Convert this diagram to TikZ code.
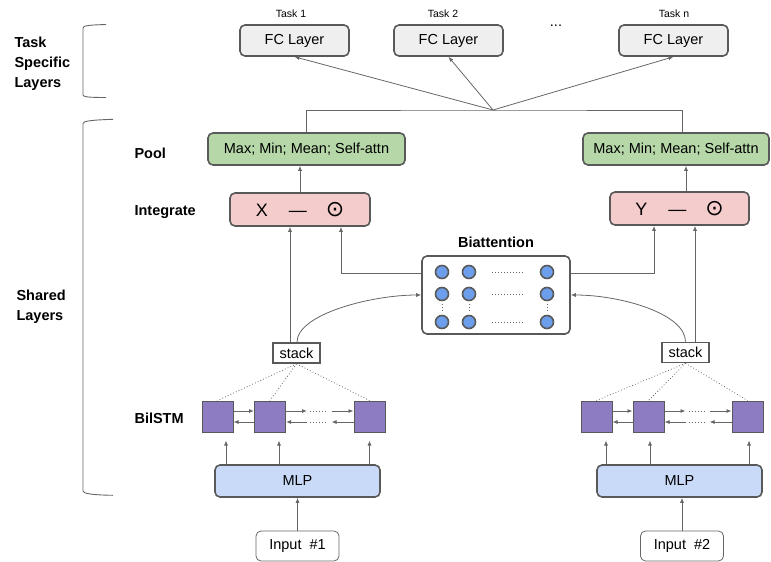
\documentclass[tikz,border=0pt]{standalone}
\usepackage{fontspec}
\setmainfont{Liberation Sans}
\newfontfamily\symfont{DejaVu Sans}
\usetikzlibrary{arrows.meta}

\definecolor{edgegray}{HTML}{595959}
\definecolor{wiregray}{HTML}{666666}
\definecolor{fcfill}{HTML}{EFEFEF}
\definecolor{poolfill}{HTML}{B6D7A8}
\definecolor{intfill}{HTML}{F4CCCC}
\definecolor{mlpfill}{HTML}{C9DAF8}
\definecolor{cellfill}{HTML}{8E7CC3}
\definecolor{unitfill}{HTML}{6D9EEB}

\tikzset{
    box/.style={draw=edgegray, line width=1.6pt, rounded corners=5pt, inner sep=0pt,
        font=\fontsize{14.5}{17}\selectfont},
    fcbox/.style={box, fill=fcfill, minimum width=109pt, minimum height=31pt},
    poolbox/.style={box, fill=poolfill, minimum width=197pt, minimum height=32pt},
    intbox/.style={box, fill=intfill, minimum width=140pt, minimum height=33pt,
        font=\fontsize{18}{20}\selectfont},
    mlpbox/.style={box, fill=mlpfill, minimum width=165pt, minimum height=32pt},
    inbox/.style={box, draw=wiregray, line width=0.8pt, fill=white,
        minimum width=83pt, minimum height=30pt},
    stackbox/.style={draw=edgegray, line width=1.6pt, fill=white, inner sep=0pt,
        minimum width=47pt, minimum height=20pt, font=\fontsize{14.5}{17}\selectfont},
    cell/.style={draw=edgegray, line width=1pt, fill=cellfill, minimum size=31pt, inner sep=0pt},
    unit/.style={circle, draw=edgegray, line width=1.6pt, fill=unitfill, minimum size=13pt, inner sep=0pt},
    tag/.style={font=\bfseries\fontsize{14.5}{20}\selectfont, align=left, anchor=base west},
    task/.style={font=\fontsize{10.5}{12}\selectfont, anchor=base},
    link/.style={draw=wiregray, line width=0.8pt},
    arr/.style={link, -{Latex[length=5pt,width=4pt]}},
    dots/.style={draw=wiregray, line width=0.8pt, dash pattern=on 0.8pt off 2.2pt},
    bracket/.style={draw=wiregray, line width=0.9pt}
}

\begin{document}
\begin{tikzpicture}[x=1pt, y=-1pt]
    \useasboundingbox (0,0) rectangle (771,562);

    % side labels and brackets (base of a multi-line tag = its last line)
    \node[tag] (lTask) at (11,87) {Task\\Specific\\Layers};
    \node[tag] (lShared) at (13,320) {Shared\\Layers};
    \node[tag] (lPool) at (131,158) {Pool};
    \node[tag] (lInt) at (131,215) {Integrate};
    \node[tag] (lLstm) at (131,423) {BilSTM};
    \draw[bracket] (106,24.5) .. controls (90,25) and (83,25.5) .. (83,28) -- (83,95)
        .. controls (83,97) and (90,97.5) .. (106,97.5);
    \draw[bracket] (113,119.3) .. controls (92,120) and (83,121) .. (83,123.5) -- (83,491)
        .. controls (83,493.5) and (92,495) .. (113,495.3);

    % task specific layers
    \node[task] (tA) at (291,17) {Task 1};
    \node[task] (tB) at (443,17) {Task 2};
    \node[task] (tN) at (674,17) {Task n};
    \node[anchor=base, font=\fontsize{14.5}{17}\selectfont] (more) at (556,27) {...};
    \node[fcbox] (fcA) at (294.5,40.5) {FC Layer};
    \node[fcbox] (fcB) at (448.5,40.5) {FC Layer};
    \node[fcbox] (fcN) at (673.5,40.5) {FC Layer};

    % pool and integrate
    \node[poolbox] (poolA) at (306.5,149) {Max; Min; Mean; Self-attn};
    \node[poolbox, minimum width=186pt] (poolB) at (676,149) {Max; Min; Mean; Self-attn};
    \node[intbox] (intA) at (300,209.5) {X\hspace{21pt}—\hspace{19pt}{\symfont\fontsize{22}{22}\selectfont ⊙}};
    \node[intbox, minimum width=139pt] (intB) at (679.5,208.5) {Y\hspace{21pt}—\hspace{19pt}{\symfont\fontsize{22}{22}\selectfont ⊙}};

    \coordinate (hub) at (493,110);
    \draw[link] (poolA.north) |- (hub) -| ([xshift=6pt]poolB.north);
    \draw[arr] (hub) -- (fcA.south);
    \draw[arr] (hub) -- (fcB.south);
    \draw[arr] (hub) -- (fcN.south);
    \draw[arr] (intA.north) -- (intA.north |- poolA.south);
    \draw[arr] ([xshift=6.5pt]intB.north) -- ([xshift=6.5pt]intB.north |- poolB.south);

    % biattention
    \node[anchor=base, font=\bfseries\fontsize{14.5}{17}\selectfont] (lBi) at (496,247) {Biattention};
    \node[box, fill=white, minimum width=148pt, minimum height=78pt] (biatt) at (496,295) {};
    \node[unit] (u11) at (442,272) {};
    \node[unit] (u12) at (469,272) {};
    \node[unit] (u13) at (547,272) {};
    \node[unit] (u21) at (442,294) {};
    \node[unit] (u22) at (469,294) {};
    \node[unit] (u23) at (547,294) {};
    \node[unit] (u31) at (442,322) {};
    \node[unit] (u32) at (469,322) {};
    \node[unit] (u33) at (547,322) {};
    \draw[dots] ([xshift=16pt]u12.east) -- ([xshift=-17pt]u13.west);
    \draw[dots] ([xshift=16pt]u22.east) -- ([xshift=-17pt]u23.west);
    \draw[dots] ([xshift=16pt]u32.east) -- ([xshift=-17pt]u33.west);
    \draw[dots] ([yshift=-2.5pt]u21.south) -- ([yshift=2.5pt]u31.north);
    \draw[dots] ([yshift=-2.5pt]u22.south) -- ([yshift=2.5pt]u32.north);
    \draw[dots] ([yshift=-2.5pt]u23.south) -- ([yshift=2.5pt]u33.north);

    % stacks
    \node[stackbox] (stA) at (296.5,353) {stack};
    \node[stackbox] (stB) at (685.5,352.5) {stack};
    \draw[arr] ([xshift=-6.5pt]stA.north) -- ([xshift=-6.5pt]stA.north |- intA.south);
    \draw[arr] ([xshift=9.5pt]stB.north) -- ([xshift=9.5pt]stB.north |- intB.south);
    \draw[arr] ([yshift=22pt]biatt.west) -| ([xshift=41pt]intA.south);
    \draw[arr] ([yshift=22pt]biatt.east) -| ([xshift=-25.5pt]intB.south);
    \draw[arr] ([xshift=0.5pt]stA.north) .. controls +(0,-28) and +(-50,0) .. (biatt.west);
    \draw[arr] (stB.north) .. controls +(0,-28) and +(50,0) .. (biatt.east);

    % bilstm, left
    \node[cell] (cA1) at (217.5,416.5) {};
    \node[cell] (cA2) at (270,416.5) {};
    \node[cell] (cA3) at (369.5,416.5) {};
    \draw[dots] (stA.south) -- (cA1.north);
    \draw[dots] (stA.south) -- (cA2.north);
    \draw[dots] (stA.south) -- (cA3.north);
    \draw[arr] ([yshift=5.5pt]cA1.east) -- ([yshift=5.5pt]cA2.west);
    \draw[arr] ([yshift=-5.5pt]cA2.west) -- ([yshift=-5.5pt]cA1.east);
    \draw[arr] ([yshift=5.5pt]cA2.east) -- ++(21,0);
    \draw[dots] ([xshift=24pt,yshift=5.5pt]cA2.east) -- ([xshift=-27pt,yshift=5.5pt]cA3.west);
    \draw[arr] ([xshift=-22pt,yshift=5.5pt]cA3.west) -- ([yshift=5.5pt]cA3.west);
    \draw[arr] ([xshift=21pt,yshift=-5.5pt]cA2.east) -- ([yshift=-5.5pt]cA2.east);
    \draw[dots] ([xshift=24pt,yshift=-5.5pt]cA2.east) -- ([xshift=-27pt,yshift=-5.5pt]cA3.west);
    \draw[arr] ([yshift=-5.5pt]cA3.west) -- ++(-22,0);

    % bilstm, right
    \node[cell] (cB1) at (596.5,416.5) {};
    \node[cell] (cB2) at (648.5,416.5) {};
    \node[cell] (cB3) at (747.5,416.5) {};
    \draw[dots] (stB.south) -- (cB1.north);
    \draw[dots] (stB.south) -- (cB2.north);
    \draw[dots] (stB.south) -- (cB3.north);
    \draw[arr] ([yshift=5.5pt]cB1.east) -- ([yshift=5.5pt]cB2.west);
    \draw[arr] ([yshift=-5.5pt]cB2.west) -- ([yshift=-5.5pt]cB1.east);
    \draw[arr] ([yshift=5.5pt]cB2.east) -- ++(21,0);
    \draw[dots] ([xshift=24pt,yshift=5.5pt]cB2.east) -- ([xshift=-27pt,yshift=5.5pt]cB3.west);
    \draw[arr] ([xshift=-22pt,yshift=5.5pt]cB3.west) -- ([yshift=5.5pt]cB3.west);
    \draw[arr] ([xshift=21pt,yshift=-5.5pt]cB2.east) -- ([yshift=-5.5pt]cB2.east);
    \draw[dots] ([xshift=24pt,yshift=-5.5pt]cB2.east) -- ([xshift=-27pt,yshift=-5.5pt]cB3.west);
    \draw[arr] ([yshift=-5.5pt]cB3.west) -- ++(-22,0);

    % mlp and inputs
    \node[mlpbox] (mlpA) at (297.5,481) {MLP};
    \node[mlpbox] (mlpB) at (679.5,481) {MLP};
    \node[inbox] (inA) at (297.5,546) {Input\ \ \#1};
    \node[inbox] (inB) at (682,546) {Input\ \ \#2};
    \draw[arr] ([xshift=8.5pt]cA1.south |- mlpA.north) -- ([xshift=8.5pt,yshift=-8pt]cA1.south);
    \draw[arr] ([xshift=9pt]cA2.south |- mlpA.north) -- ([xshift=9pt,yshift=-8pt]cA2.south);
    \draw[arr] (cA3.south |- mlpA.north) -- ([yshift=-8pt]cA3.south);
    \draw[arr] ([xshift=9.5pt]cB1.south |- mlpB.north) -- ([xshift=9.5pt,yshift=-8pt]cB1.south);
    \draw[arr] ([xshift=1.5pt]cB2.south |- mlpB.north) -- ([xshift=1.5pt,yshift=-8pt]cB2.south);
    \draw[arr] ([xshift=1.5pt]cB3.south |- mlpB.north) -- ([xshift=1.5pt,yshift=-8pt]cB3.south);
    \draw[arr] (inA.north) -- (mlpA.south);
    \draw[arr] (inB.north) -- (inB.north |- mlpB.south);
\end{tikzpicture}
\end{document}
